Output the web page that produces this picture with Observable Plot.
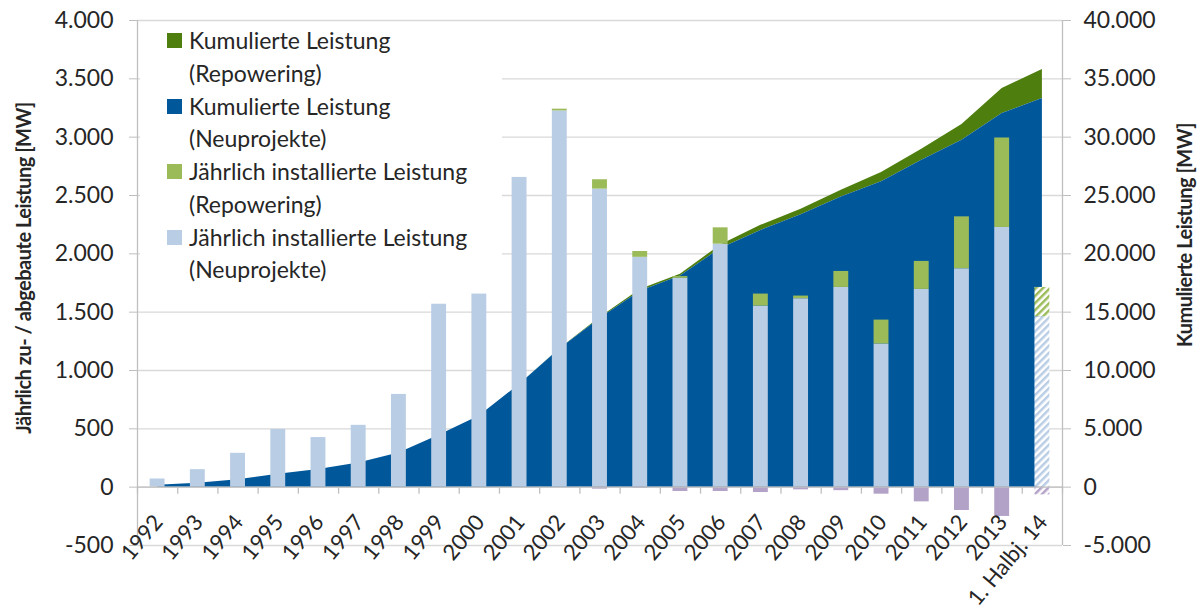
<!DOCTYPE html>
<html><head><meta charset="utf-8">
<script src="https://cdn.jsdelivr.net/npm/d3@7"></script>
<script src="https://cdn.jsdelivr.net/npm/@observablehq/plot@0.6"></script>
<style>
body{margin:0;background:#fff;}
#wrap{position:relative;width:1203px;height:612px;font-family:Lato,sans-serif;color:#262626;}
#legend{position:absolute;left:140px;top:22px;width:362px;height:268px;background:#fff;}
.li{position:absolute;left:0;font-size:23px;line-height:32.5px;}
.sw{position:absolute;width:15px;height:15px;left:27px;}
.lt{position:absolute;left:49px;white-space:nowrap;}
.ttl{position:absolute;font-weight:bold;font-size:20px;letter-spacing:-0.5px;white-space:nowrap;width:600px;height:24px;line-height:24px;text-align:center;transform-origin:center center;}
</style></head>
<body><div id="wrap"><div id="chart"></div></div>
<script>
const categories = ["1992","1993","1994","1995","1996","1997","1998","1999","2000","2001","2002","2003","2004","2005","2006","2007","2008","2009","2010","2011","2012","2013","1. Halbj. 14"];
const neuAnnual = [70,150,290,495,425,530,795,1568,1655,2655,3225,2555,1970,1790,2083,1552,1615,1712,1227,1695,1872,2226,1461];
const repAnnual = [0,0,0,0,0,0,0,0,0,0,15,80,50,15,140,103,23,137,205,240,445,767,251];
const abgebaut = [0,0,0,0,0,0,0,0,0,0,0,-17,-10,-37,-37,-46,-23,-30,-60,-126,-200,-251,-66];
const cumNeu = [170,340,640,1100,1520,2080,2920,4450,6100,8800,11850,14450,16800,18100,20450,22000,23340,24880,26170,28020,29740,32020,33310];
const cumRep = [0,0,0,0,0,0,0,0,0,0,15,90,140,160,300,440,490,580,800,950,1350,2150,2480];
const partialFlags = [false,false,false,false,false,false,false,false,false,false,false,false,false,false,false,false,false,false,false,false,false,false,true];
const yTicks = [-500,0,500,1000,1500,2000,2500,3000,3500,4000];
const legendItems = [
  {label:["Kumulierte Leistung","(Repowering)"], color:"#4e7f0e"},
  {label:["Kumulierte Leistung","(Neuprojekte)"], color:"#00589b"},
  {label:["Jährlich installierte Leistung","(Repowering)"], color:"#9bbb59"},
  {label:["Jährlich installierte Leistung","(Neuprojekte)"], color:"#b9cde5"}
];
const leftTitle = "Jährlich zu- / abgebaute Leistung [MW]";
const rightTitle = "Kumulierte Leistung [MW]";

const C = {darkBlue:"#00589b", darkGreen:"#4e7f0e", lightBlue:"#b9cde5", lightGreen:"#9bbb59", purple:"#b3a2c7", axis:"#bfbfbf", grid:"#d9d9d9"};
const fmt = d3.formatLocale({decimal:",", thousands:".", grouping:[3], currency:["","€"], minus:"-"}).format(",");

const rows = categories.map((c,i)=>({i, c, neu:neuAnnual[i], rep:repAnnual[i], abg:abgebaut[i], cn:cumNeu[i]/10, ct:(cumNeu[i]+cumRep[i])/10, partial:partialFlags[i]}));
const full = rows.filter(d=>!d.partial), part = rows.filter(d=>d.partial);
const hw = 0.185;
const bounds = d3.range(categories.length+1).map(k=>k-0.5);

const chart = Plot.plot({
  width:1203, height:612,
  marginLeft:137, marginRight:141, marginTop:20, marginBottom:67,
  style:{fontFamily:"Lato", fontSize:"22px", color:"#262626", background:"#fff", overflow:"visible"},
  x:{type:"linear", domain:[-0.5, categories.length-0.5], axis:null},
  y:{domain:[-500,4000], axis:null},
  marks:[
    Plot.ruleY(yTicks, {stroke:C.grid, strokeWidth:1.3}),
    Plot.areaY(rows, {x:"i", y1:d=>d.cn, y2:"ct", fill:C.darkGreen}),
    Plot.areaY(rows, {x:"i", y1:0, y2:"cn", fill:C.darkBlue}),
    Plot.rectY(full, {x1:d=>d.i-hw, x2:d=>d.i+hw, y1:0, y2:"neu", fill:C.lightBlue}),
    Plot.rectY(full, {x1:d=>d.i-hw, x2:d=>d.i+hw, y1:"neu", y2:d=>d.neu+d.rep, fill:C.lightGreen}),
    Plot.rectY(full, {x1:d=>d.i-hw, x2:d=>d.i+hw, y1:0, y2:"abg", fill:C.purple}),
    Plot.rectY(part, {x1:d=>d.i-hw, x2:d=>d.i+hw, y1:0, y2:"neu", fill:"url(#hatchBlue)"}),
    Plot.rectY(part, {x1:d=>d.i-hw, x2:d=>d.i+hw, y1:"neu", y2:d=>d.neu+d.rep, fill:"url(#hatchGreen)"}),
    Plot.rectY(part, {x1:d=>d.i-hw, x2:d=>d.i+hw, y1:0, y2:"abg", fill:"url(#hatchPurple)"}),
    Plot.ruleY([0], {stroke:C.axis, strokeWidth:1.3}),
    Plot.ruleX([bounds[0], bounds[bounds.length-1]], {y1:-500, y2:4000, stroke:C.axis, strokeWidth:1.3}),
    Plot.ruleX(bounds, {y1:0, y2:-60, stroke:C.axis, strokeWidth:1.3}),
    Plot.axisY(yTicks, {anchor:"left", tickFormat:fmt, tickSize:8, tickPadding:16, fontSize:23, stroke:C.axis, label:null}),
    Plot.axisY(yTicks, {anchor:"right", tickFormat:d=>fmt(d*10), tickSize:8, tickPadding:13, fontSize:23, stroke:C.axis, label:null}),
    Plot.text(rows, {x:"i", y:0, text:"c", rotate:-50, textAnchor:"end", lineAnchor:"middle", dx:1, dy:31, fontSize:22, fill:"#262626"})
  ]
});

const ns = "http://www.w3.org/2000/svg";
const defs = document.createElementNS(ns, "defs");
function pat(id, color){
  return `<pattern id="${id}" patternUnits="userSpaceOnUse" width="5" height="5" patternTransform="rotate(45)"><rect width="5" height="5" fill="#fff"/><rect x="0" y="0" width="2.5" height="5" fill="${color}"/></pattern>`;
}
defs.innerHTML = pat("hatchBlue", C.lightBlue) + pat("hatchGreen", C.lightGreen) + pat("hatchPurple", C.purple);
chart.insertBefore(defs, chart.firstChild);
document.getElementById("chart").appendChild(chart);

const wrap = document.getElementById("wrap");
const lg = document.createElement("div"); lg.id = "legend";
legendItems.forEach((it, k)=>{
  const top = 2 + k*65.5;
  const li = document.createElement("div"); li.className = "li"; li.style.top = top+"px";
  const sw = document.createElement("div"); sw.className = "sw"; sw.style.background = it.color; sw.style.top = "9px";
  const lt = document.createElement("div"); lt.className = "lt"; lt.innerHTML = it.label.join("<br>");
  li.appendChild(sw); li.appendChild(lt); lg.appendChild(li);
});
wrap.appendChild(lg);

function title(text, cx, cy, rot){
  const t = document.createElement("div"); t.className = "ttl"; t.textContent = text;
  t.style.left = (cx - 300)+"px"; t.style.top = (cy - 12)+"px";
  t.style.transform = `rotate(${rot}deg)`;
  wrap.appendChild(t);
}
title(leftTitle, 23, 268, -90);
title(rightTitle, 1184, 235, -90);
</script></body></html>
